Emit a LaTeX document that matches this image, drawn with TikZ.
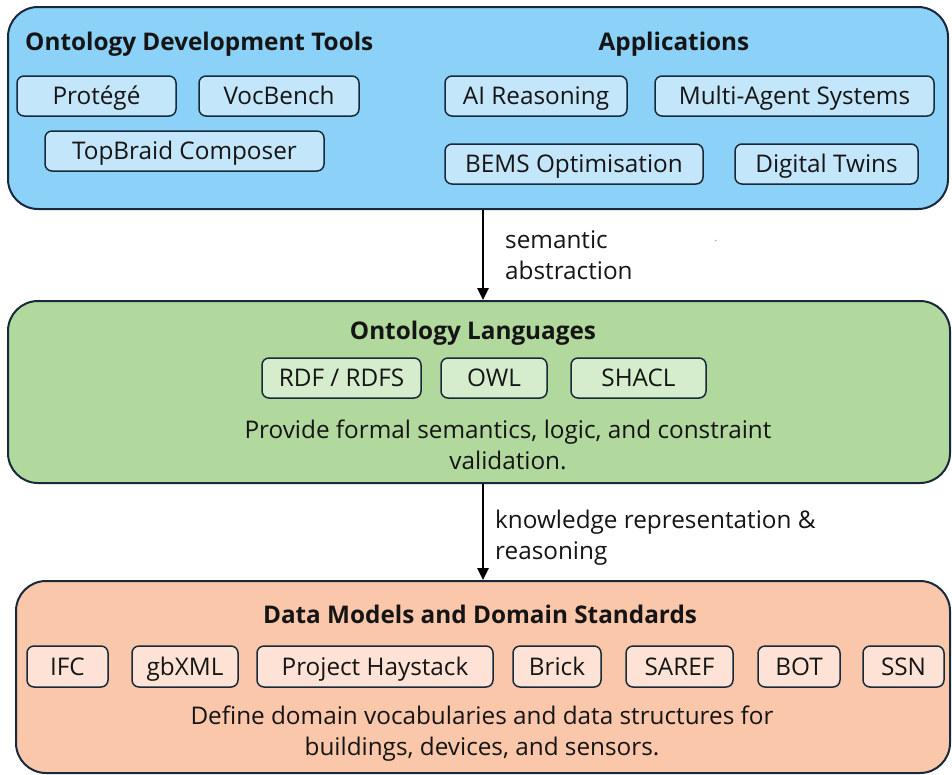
\documentclass[tikz,border=0pt]{standalone}
\usepackage{fontspec}
\setmainfont{Open Sans}
\usetikzlibrary{arrows.meta}
\definecolor{edge}{HTML}{17293A}
\definecolor{bluebg}{HTML}{8CD1F7}
\definecolor{bluein}{HTML}{C4E6FB}
\definecolor{greenbg}{HTML}{B1D89D}
\definecolor{greenin}{HTML}{D6EDCD}
\definecolor{orangebg}{HTML}{FBC7AB}
\definecolor{orangein}{HTML}{FDE2D5}
\definecolor{ink}{HTML}{151515}
\begin{document}
\begin{tikzpicture}[x=1pt,y=-1pt,
  bigbox/.style={draw=edge, line width=2pt, rounded corners=30pt, inner sep=0pt},
  item/.style={draw=edge, line width=1.5pt, rounded corners=7pt, minimum height=40pt, inner sep=0pt,
    text=ink, font=\fontsize{24.3}{26}\selectfont, text height=17.3pt, text depth=0pt},
  head/.style={text=ink, font=\bfseries\fontsize{24.3}{26}\selectfont, inner sep=0pt,
    text height=17.3pt, text depth=0pt},
  body/.style={text=ink, font=\fontsize{24.3}{31}\selectfont, align=center, inner sep=0pt},
  lbl/.style={text=ink, font=\fontsize{24.3}{31}\selectfont, align=left, inner sep=0pt, anchor=west},
  arr/.style={line width=2.6pt, -{Triangle[width=11pt,length=12pt]}}
]
\useasboundingbox (0,0) rectangle (952,774);
% top layer
\node[bigbox, fill=bluebg, minimum width=940pt, minimum height=202pt] (top) at (478,108) {};
\node[head, anchor=west] (tooltitle) at (25,41.5) {Ontology Development Tools};
\node[head] (apptitle) at (674,41.5) {Applications};
\node[item, fill=bluein, minimum width=159pt] (protege) at (96.5,96) {Protégé};
\node[item, fill=bluein, minimum width=160pt] (vocbench) at (279,96) {VocBench};
\node[item, fill=bluein, minimum width=279pt] (topbraid) at (184.5,151) {TopBraid Composer};
\node[item, fill=bluein, minimum width=182pt] (ai) at (536,96) {AI Reasoning};
\node[item, fill=bluein, minimum width=279pt] (mas) at (794.5,96) {Multi-Agent Systems};
\node[item, fill=bluein, minimum width=258pt] (bems) at (574,164) {BEMS Optimisation};
\node[item, fill=bluein, minimum width=183pt] (twins) at (826.5,164) {Digital Twins};
% middle layer
\node[bigbox, fill=greenbg, minimum width=942pt, minimum height=182pt] (lang) at (479,392) {};
\node[head] (langtitle) at (473,331) {Ontology Languages};
\node[item, fill=greenin, minimum width=159pt] (rdf) at (341.5,378) {RDF / RDFS};
\node[item, fill=greenin, minimum width=106pt] (owl) at (494,378) {OWL};
\node[item, fill=greenin, minimum width=135pt] (shacl) at (638.5,378) {SHACL};
\node[body] (langtext) at (508,445) {Provide formal semantics, logic, and constraint\\validation.};
% bottom layer
\node[bigbox, fill=orangebg, minimum width=934pt, minimum height=192pt] (data) at (483,677) {};
\node[head] (datatitle) at (480,614.5) {Data Models and Domain Standards};
\node[item, fill=orangein, minimum width=81pt, minimum height=41pt] (ifc) at (67.5,666.5) {IFC};
\node[item, fill=orangein, minimum width=106pt, minimum height=41pt] (gbxml) at (185,666.5) {gbXML};
\node[item, fill=orangein, minimum width=236pt, minimum height=41pt] (haystack) at (375,666.5) {Project Haystack};
\node[item, fill=orangein, minimum width=88pt, minimum height=41pt] (brick) at (557,666.5) {Brick};
\node[item, fill=orangein, minimum width=107pt, minimum height=41pt] (saref) at (679.5,666.5) {SAREF};
\node[item, fill=orangein, minimum width=82pt, minimum height=41pt] (bot) at (799,666.5) {BOT};
\node[item, fill=orangein, minimum width=81pt, minimum height=41pt] (ssn) at (903.5,666.5) {SSN};
\node[body] (datatext) at (482,734) {Define domain vocabularies and data structures for\\buildings, devices, and sensors.};
% connectors
\coordinate (ax) at (483,0);
\draw[arr] (top.south -| ax) -- (lang.north -| ax);
\draw[arr] (lang.south -| ax) -- (data.north -| ax);
\node[lbl] (lbl1) at (505,255.5) {semantic\\abstraction};
\node[lbl] (lbl2) at (495,537.5) {knowledge representation \&\\reasoning};
\node[text=gray, font=\fontsize{10}{10}\selectfont, inner sep=0pt] (dot) at (716,241) {.};
\end{tikzpicture}
\end{document}
